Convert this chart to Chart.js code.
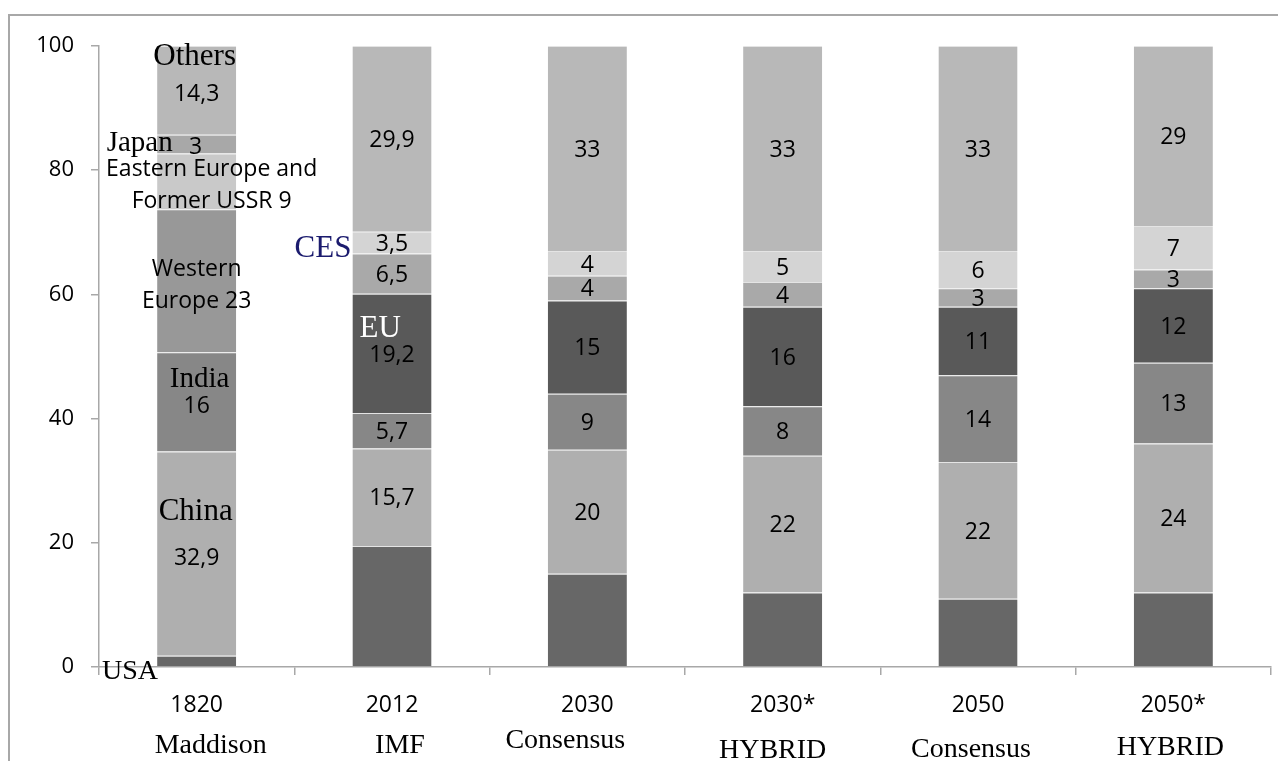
<!DOCTYPE html>
<html>
<head>
<meta charset="utf-8">
<script src="https://cdn.jsdelivr.net/npm/chart.js@4.4.0/dist/chart.umd.min.js"></script>
<style>
  html, body { margin: 0; padding: 0; background: #fff; }
  #wrap { width: 1278px; height: 761px; position: relative; }
</style>
</head>
<body>
<div id="wrap"><canvas id="c"></canvas></div>
<script>
// data (shares of world GDP, %)
const categories = ['1820', '2012', '2030', '2030*', '2050', '2050*']
const sources = ['Maddison', 'IMF', 'Consensus', 'HYBRID', 'Consensus', 'HYBRID']
const usa = [1.8, 19.5, 15, 12, 11, 12]
const china = [32.9, 15.7, 20, 22, 22, 24]
const india = [16, 5.7, 9, 8, 14, 13]
const europe = [23, 19.2, 15, 16, 11, 12]     // Western Europe in 1820, EU after
const middle = [9, 6.5, 4, 4, 3, 3]           // Eastern Europe and Former USSR in 1820
const ces = [3, 3.5, 4, 5, 6, 7]              // Japan in 1820, CES after
const others = [14.3, 29.9, 33, 33, 33, 29]
const yTicks = [0, 20, 40, 60, 80, 100]

const SANS = '"Open Sans", sans-serif'
const SERIF = '"Liberation Serif", "Times New Roman", serif'
const AXIS = '#a8a8a8'

const fmt = v => String(v).replace('.', ',')

//draw text with its cap height centred on y
const put = (ctx, text, x, y, size, family, color, align) => {
  ctx.font = size + 'px ' + family
  ctx.fillStyle = color || '#000'
  ctx.textAlign = align || 'center'
  ctx.textBaseline = 'alphabetic'
  let cap = family === SERIF ? 0.662 : 0.714
  ctx.fillText(text, x, y + cap * size / 2)
}

const same = (c) => categories.map(() => c)
const first = (a, b) => categories.map((_, i) => i === 0 ? a : b)

const seg = (label, data, colors) => ({
  label: label,
  data: data,
  backgroundColor: colors,
  borderColor: '#e4e4e4',
  borderWidth: {top: 1, left: 0, right: 0, bottom: 0},
  borderSkipped: false,
  barPercentage: 0.405,
  categoryPercentage: 1,
})

const frame = {
  id: 'frame',
  beforeDraw(chart) {
    let ctx = chart.ctx
    ctx.save()
    ctx.strokeStyle = AXIS
    ctx.lineWidth = 2
    ctx.strokeRect(9, 15, 1400, 900)
    ctx.restore()
  }
}

const labels = {
  id: 'labels',
  afterDatasetsDraw(chart) {
    let ctx = chart.ctx
    ctx.save()
    let el = (d, i) => chart.getDatasetMeta(d).data[i]
    let mid = (e) => (e.y + e.base) / 2

    // value labels for the later bars
    for (let d = 1; d < 7; d++) {
      chart.getDatasetMeta(d).data.forEach((e, i) => {
        if (i === 0) return
        put(ctx, fmt(chart.data.datasets[d].data[i]), e.x, mid(e), 23, SANS)
      })
    }

    // 1820 bar with region names
    let cx = el(0, 0).x
    put(ctx, 'USA', 102, el(0, 0).base + 3, 28, SERIF, '#000', 'left')
    let e = el(1, 0)
    put(ctx, 'China', cx - 1, mid(e) - 44, 31, SERIF)
    put(ctx, fmt(china[0]), cx, mid(e) + 3, 23, SANS)
    e = el(2, 0)
    put(ctx, 'India', cx + 3, mid(e) - 24, 29, SERIF)
    put(ctx, fmt(india[0]), cx, mid(e) + 3, 23, SANS)
    e = el(3, 0)
    put(ctx, 'Western', cx, mid(e) - 13, 23, SANS)
    put(ctx, 'Europe ' + fmt(europe[0]), cx, mid(e) + 19, 23, SANS)
    e = el(4, 0)
    put(ctx, 'Eastern Europe and', cx + 15, mid(e) - 14, 23, SANS)
    put(ctx, 'Former USSR ' + fmt(middle[0]), cx + 15, mid(e) + 18, 23, SANS)
    e = el(5, 0)
    put(ctx, 'Japan', cx - 90, mid(e) - 3, 29, SERIF, '#000', 'left')
    put(ctx, fmt(ces[0]), cx - 1, mid(e) + 2, 23, SANS)
    e = el(6, 0)
    put(ctx, 'Others', cx - 2, e.y + 9, 31, SERIF)
    put(ctx, fmt(others[0]), cx, mid(e) + 2, 23, SANS)

    // names on the 2012 bar
    e = el(5, 1)
    put(ctx, 'CES', e.x - e.width / 2 - 1, mid(e) + 4, 31, SERIF, '#1b1b6e', 'right')
    e = el(3, 1)
    put(ctx, 'EU', e.x - e.width / 2 + 7, e.y + 33, 31, SERIF, '#ffffff', 'left')

    // data sources under the years
    let xs = chart.scales.x
    let dx = [14, 8, -22, -10, -7, -3]
    let base = [753, 753, 748, 758, 757, 755]
    ctx.font = '28px ' + SERIF
    ctx.fillStyle = '#000'
    ctx.textAlign = 'center'
    ctx.textBaseline = 'alphabetic'
    sources.forEach((s, i) => {
      ctx.fillText(s, xs.getPixelForValue(i) + dx[i], base[i])
    })
    ctx.restore()
  }
}

new Chart(document.getElementById('c'), {
  type: 'bar',
  data: {
    labels: categories,
    datasets: [
      seg('USA', usa, same('#676767')),
      seg('China', china, same('#afafaf')),
      seg('India', india, same('#878787')),
      seg('Europe', europe, first('#989898', '#595959')),
      seg('Eastern Europe', middle, first('#c9c9c9', '#a9a9a9')),
      seg('CES', ces, first('#a8a8a8', '#d4d4d4')),
      seg('Others', others, same('#b8b8b8')),
    ]
  },
  options: {
    responsive: true,
    maintainAspectRatio: false,
    animation: false,
    devicePixelRatio: 1,
    layout: {padding: {top: 46, right: 7, left: 0, bottom: 0}},
    plugins: {
      legend: {display: false},
      tooltip: {enabled: false},
    },
    scales: {
      x: {
        stacked: true,
        afterFit: (s) => { s.height = 94 },
        grid: {
          offset: true,
          drawOnChartArea: false,
          drawTicks: true,
          tickLength: 8,
          color: AXIS,
          lineWidth: 1.5,
        },
        border: {display: true, color: AXIS, width: 1.5},
        ticks: {
          color: '#000',
          padding: 17,
          font: {family: SANS, size: 23},
        }
      },
      y: {
        stacked: true,
        min: 0,
        max: 100,
        afterFit: (s) => { s.width = 99 },
        afterBuildTicks: (s) => { s.ticks = yTicks.map(v => ({value: v})) },
        grid: {
          drawOnChartArea: false,
          drawTicks: true,
          tickLength: 8,
          color: AXIS,
          lineWidth: 1.5,
        },
        border: {display: true, color: AXIS, width: 1.5},
        ticks: {
          color: '#000',
          padding: 17,
          font: {family: SANS, size: 22},
        }
      }
    }
  },
  plugins: [frame, labels]
})
</script>
</body>
</html>
